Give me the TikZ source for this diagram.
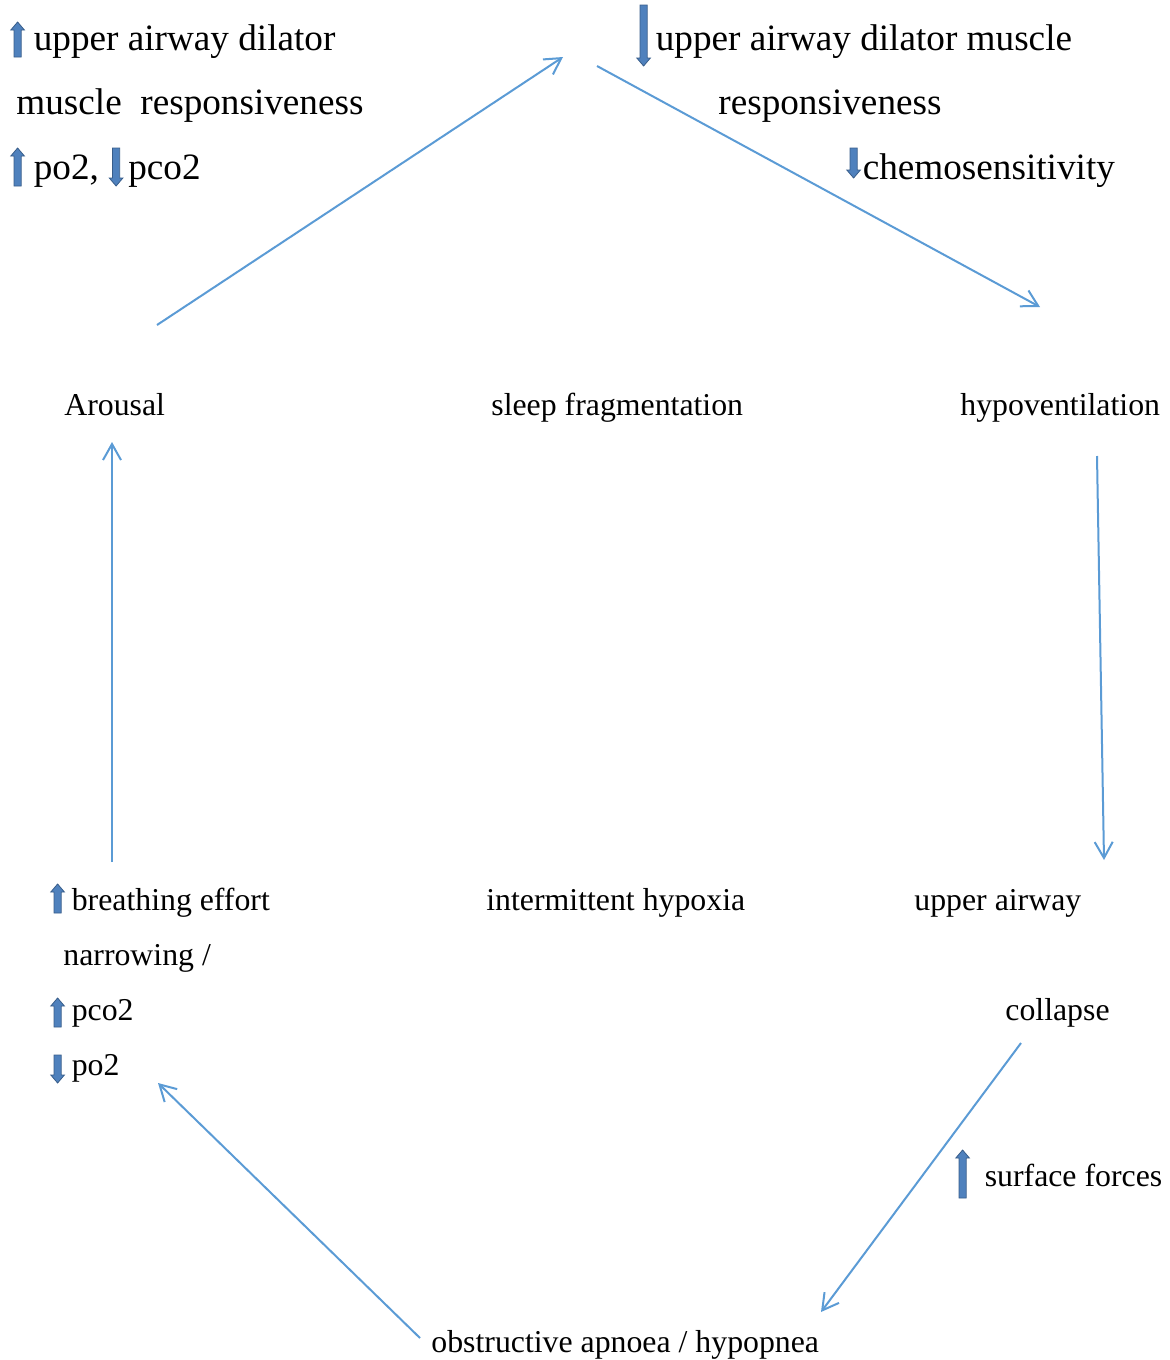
\documentclass[tikz,border=0pt]{standalone}
\usepackage{fontspec}
\setmainfont{Liberation Serif}
\usepackage{xcolor}
\usepackage{tikz}
\usetikzlibrary{arrows.meta,positioning}
\definecolor{cycleblue}{HTML}{5B9BD5}
\definecolor{blockfill}{HTML}{4F81BD}
\definecolor{blockedge}{HTML}{385D8A}
\tikzset{
  bigtext/.style={
    anchor=base west,
    inner sep=0pt,
    font=\fontsize{18.6}{22}\selectfont
  },
  smalltext/.style={
    anchor=base west,
    inner sep=0pt,
    font=\fontsize{15.9}{19}\selectfont
  },
  cyclearrow/.style={
    -{Straight Barb[length=8pt,width=9pt]},
    line width=1pt,
    draw=cycleblue
  },
  blockarrow/.style={
    fill=blockfill,
    draw=blockedge,
    line width=0.4pt
  }
}
\newcommand{\incr}[2]{\tikz[baseline=0pt,x=1pt,y=1pt]\draw[blockarrow] (-1.8,#1) -- (-1.8,#2-4) -- (-3.4,#2-4) -- (0,#2) -- (3.4,#2-4) -- (1.8,#2-4) -- (1.8,#1) -- cycle;}
\newcommand{\decr}[2]{\tikz[baseline=0pt,x=1pt,y=1pt]\draw[blockarrow] (-1.8,#2) -- (-1.8,#1+4) -- (-3.4,#1+4) -- (0,#1) -- (3.4,#1+4) -- (1.8,#1+4) -- (1.8,#2) -- cycle;}

\begin{document}
\begin{tikzpicture}[x=0.5pt,y=-0.5pt]
    \useasboundingbox (0,0) rectangle (1170,1360);

    \node[bigtext] (dilatorup) at (10,50) {\incr{-3.5}{14}\hspace{4.5pt}upper airway dilator};
    \node[bigtext] (dilatormuscle) at (16,114) {muscle\ \ responsiveness};
    \node[bigtext] (gasup) at (10,179) {\incr{-3.5}{15.5}\hspace{4.5pt}po2,\hspace{5pt}\decr{-3.5}{15.5}\hspace{2.5pt}pco2};

    \node[bigtext] (dilatordown) at (636,50) {\decr{-8}{22.5}\hspace{2.5pt}upper airway dilator muscle};
    \node[bigtext] (responsive) at (718,114) {responsiveness};
    \node[bigtext] (chemo) at (846,179) {\decr{0.5}{15.5}\hspace{1pt}chemosensitivity};

    \node[smalltext] (arousal) at (64,415) {Arousal};
    \node[smalltext] (sleepfrag) at (491,415) {sleep fragmentation};
    \node[smalltext] (hypovent) at (960,415) {hypoventilation};

    \node[smalltext] (effort) at (50,910) {\incr{-1.5}{13}\hspace{3.5pt}breathing effort};
    \node[smalltext] (hypoxia) at (486,910) {intermittent hypoxia};
    \node[smalltext] (upperairway) at (914,910) {upper airway};
    \node[smalltext] (narrowing) at (63,965) {narrowing /};
    \node[smalltext] (pcoup) at (50,1020) {\incr{-3.5}{11}\hspace{3.5pt}pco2};
    \node[smalltext] (podown) at (50,1075) {\decr{-4}{10}\hspace{3.5pt}po2};
    \node[smalltext] (collapse) at (1005,1020) {collapse};
    \node[smalltext] (surface) at (955,1186) {\incr{-6}{18}\hspace{7.5pt}surface forces};
    \node[smalltext] (apnoea) at (431,1352) {obstructive apnoea / hypopnea};

    \coordinate (arousalout) at (157,325);
    \coordinate (topin) at (563,57);
    \coordinate (topout) at (597,66);
    \coordinate (hypoin) at (1040,307);
    \coordinate (hypoout) at (1097,456);
    \coordinate (airwayin) at (1104,860);
    \coordinate (collapseout) at (1021,1043);
    \coordinate (apnoeain) at (821,1312);
    \coordinate (apnoeaout) at (420,1338);
    \coordinate (effortin) at (158,1083);
    \coordinate (effortout) at (112,862);
    \coordinate (arousalin) at (112,442);

    \draw[cyclearrow] (arousalout) -- (topin);
    \draw[cyclearrow] (topout) -- (hypoin);
    \draw[cyclearrow] (hypoout) -- (airwayin);
    \draw[cyclearrow] (collapseout) -- (apnoeain);
    \draw[cyclearrow] (apnoeaout) -- (effortin);
    \draw[cyclearrow] (effortout) -- (arousalin);
\end{tikzpicture}
\end{document}
